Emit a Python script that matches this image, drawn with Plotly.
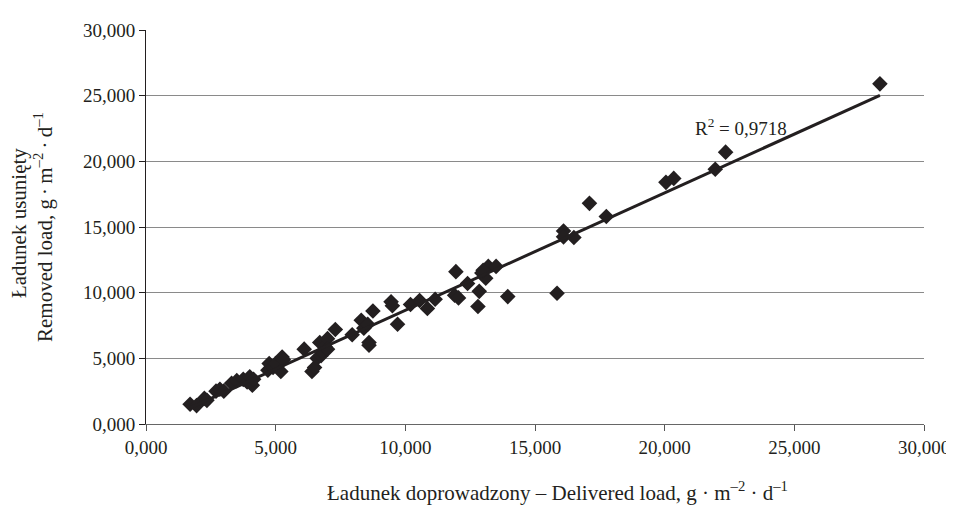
import numpy as np
import plotly.graph_objects as go

delivered = [1700, 1950, 2250, 2350, 2700, 2850, 3000, 3300, 3500, 3750, 3900, 4000, 4100, 4150,
             4700, 4750, 4900, 5000, 5200, 5250, 5300, 6100, 6400, 6500, 6600, 6700, 6750, 6800,
             6900, 7000, 7000, 7300, 7950, 8300, 8400, 8550, 8600, 8600, 8750, 9450, 9500, 9700,
             10200, 10550, 10850, 11150, 11900, 11950, 12050, 12400, 12800, 12850, 12950, 13100,
             13200, 13000, 13500, 13950, 15850, 16100, 16100, 16500, 17100, 17750, 20050, 20350,
             21950, 22350, 28300]
removed = [1500, 1400, 1950, 1800, 2500, 2650, 2500, 3100, 3300, 3400, 3200, 3600, 2950, 3400,
           4100, 4600, 4300, 4600, 4000, 5100, 4900, 5700, 4000, 4300, 5000, 6200, 5200, 5500,
           5900, 6500, 5700, 7200, 6800, 7900, 7300, 7600, 6200, 6000, 8600, 9300, 9000, 7600,
           9100, 9400, 8800, 9500, 9800, 11600, 9600, 10700, 8950, 10100, 11500, 11100,
           12000, 11700, 12000, 9700, 9950, 14700, 14250, 14200, 16800, 15800, 18400, 18700,
           19400, 20700, 25900]

tick_vals = [0, 5000, 10000, 15000, 20000, 25000, 30000]
tick_text = ["0,000", "5,000", "10,000", "15,000", "20,000", "25,000", "30,000"]
r2_label = "R<sup>2</sup> = 0,9718"
x_title = "Ładunek doprowadzony – Delivered load, g · m<sup>–2</sup> · d<sup>–1</sup>"
y_title_1 = "Ładunek usunięty"
y_title_2 = "Removed load, g\u2009·\u2009m<sup>–2</sup>\u2009·\u2009d<sup>–1</sup>"

x = np.array(delivered, dtype=float)
y = np.array(removed, dtype=float)
slope, intercept = np.polyfit(x, y, 1)
x_line = np.array([x.min(), x.max()])
y_line = slope * x_line + intercept

font_family = "Liberation Serif, Times New Roman, serif"
ink = "#231f20"

L, R, T, B = 138, 38, 16, 102
PW = 954 - L - R
PH = 518 - T - B

fig = go.Figure()
fig.add_trace(go.Scatter(x=delivered, y=removed, mode="markers",
                         marker=dict(symbol="diamond", size=12, color=ink),
                         showlegend=False))
fig.add_trace(go.Scatter(x=x_line, y=y_line, mode="lines",
                         line=dict(color=ink, width=3), showlegend=False))

fig.add_annotation(x=22950, y=22600, text=r2_label, showarrow=False,
                   font=dict(family=font_family, size=19, color=ink))

# axis titles as annotations (positions relative to plot area)
fig.add_annotation(xref="paper", yref="paper", x=(556 - 145) / PW, y=-69 / PH,
                   text=x_title, showarrow=False, xanchor="center", yanchor="middle",
                   font=dict(family=font_family, size=21, color=ink))
fig.add_annotation(xref="paper", yref="paper", x=-127 / PW, y=0.51,
                   text=y_title_1, textangle=-90, showarrow=False,
                   xanchor="center", yanchor="middle",
                   font=dict(family=font_family, size=21, color=ink))
fig.add_annotation(xref="paper", yref="paper", x=-103 / PW, y=0.5,
                   text=y_title_2, textangle=-90, showarrow=False,
                   xanchor="center", yanchor="middle",
                   font=dict(family=font_family, size=21, color=ink))

fig.update_layout(
    width=954, height=518,
    margin=dict(l=L, r=R, t=T, b=B),
    paper_bgcolor="white", plot_bgcolor="white",
    font=dict(family=font_family, size=19, color=ink),
    xaxis=dict(range=[0, 30000], tickvals=tick_vals, ticktext=tick_text,
               showgrid=False, zeroline=False, showline=True, linecolor="#666666",
               linewidth=1, ticks="outside", ticklen=6, tickcolor="#555555"),
    yaxis=dict(range=[0, 30000], tickvals=tick_vals, ticktext=tick_text,
               showgrid=True, gridcolor="#8a8a8a", gridwidth=1, zeroline=False,
               showline=True, linecolor=ink, linewidth=1, ticks="outside", ticklen=6,
               tickcolor=ink),
)

fig.write_html("out.html")
